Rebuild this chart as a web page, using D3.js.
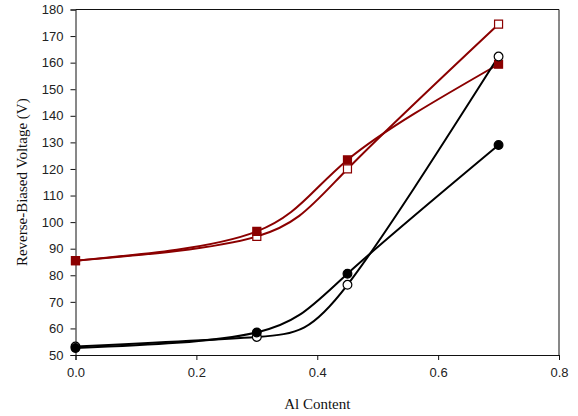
<!DOCTYPE html>
<html>
<head>
<meta charset="utf-8">
<script src="https://cdn.jsdelivr.net/npm/d3@7.9.0/dist/d3.min.js"></script>
<style>
  body { margin: 0; background: #fff; }
  svg { display: block; }
  .tick text { font-family: "Liberation Sans", Arial, sans-serif; font-size: 13px; fill: #222; }
  .title { font-family: "Liberation Serif", "Times New Roman", serif; font-size: 15px; fill: #111; }
</style>
</head>
<body>
<svg id="chart" width="578" height="416"></svg>
<script>
// Al content on the x axis
const alContent = [0, 0.3, 0.45, 0.7];

// reverse-biased voltage (V), one array per series
const redFilled = [85.5, 96.5, 123.4, 159.4];
const redOpen = [85.5, 94.6, 120, 174.5];
const blackFilled = [52.6, 58.5, 80.6, 129];
const blackOpen = [53.2, 56.8, 76.4, 162.3];

const xTicks = [0, 0.2, 0.4, 0.6, 0.8];
const yTicks = d3.range(50, 181, 10);

const series = [
  { values: redOpen, color: '#8b0000', shape: 'square', filled: false },
  { values: redFilled, color: '#8b0000', shape: 'square', filled: true },
  { values: blackOpen, color: '#000', shape: 'circle', filled: false },
  { values: blackFilled, color: '#000', shape: 'circle', filled: true }
];

const svg = d3.select('#chart');
const mLeft = 75.5, mRight = 559, mTop = 9.5, mBottom = 355;

const x = d3.scaleLinear().domain([0, 0.8]).range([mLeft, mRight]);
const y = d3.scaleLinear().domain([50, 180]).range([mBottom, mTop]);

// axes
svg.append('g')
  .attr('transform', `translate(0,${mBottom})`)
  .call(d3.axisBottom(x).tickValues(xTicks).tickFormat(d3.format('.1f')).tickSize(5).tickPadding(8))
  .call(g => g.selectAll('line, path').attr('stroke', '#111'));

svg.append('g')
  .attr('transform', `translate(${mLeft},0)`)
  .call(d3.axisLeft(y).tickValues(yTicks).tickSize(5).tickPadding(7))
  .call(g => g.selectAll('line, path').attr('stroke', '#111'));

// frame top and right
svg.append('path')
  .attr('d', `M${mLeft},${mTop}H${mRight}V${mBottom}`)
  .attr('fill', 'none')
  .attr('stroke', '#111');

// curves
const line = d3.line()
  .x((d, i) => x(alContent[i]))
  .y(d => y(d))
  .curve(d3.curveNatural);

series.forEach(s => {
  svg.append('path')
    .attr('d', line(s.values))
    .attr('fill', 'none')
    .attr('stroke', s.color)
    .attr('stroke-width', 2);
});

// markers
const sym = {
  square: d3.symbol().type(d3.symbolSquare).size(64),
  circle: d3.symbol().type(d3.symbolCircle).size(60)
};

series.forEach(s => {
  svg.append('g').selectAll('path')
    .data(s.values)
    .join('path')
    .attr('transform', (d, i) => `translate(${x(alContent[i])},${y(d)})`)
    .attr('d', sym[s.shape]())
    .attr('fill', s.filled ? s.color : '#fff')
    .attr('stroke', s.color)
    .attr('stroke-width', 1.2);
});

// titles
svg.append('text')
  .attr('class', 'title')
  .attr('x', (mLeft + mRight) / 2)
  .attr('y', 409)
  .attr('text-anchor', 'middle')
  .text('Al Content');

svg.append('text')
  .attr('class', 'title')
  .attr('transform', `translate(27,${(mTop + mBottom) / 2}) rotate(-90)`)
  .attr('text-anchor', 'middle')
  .text('Reverse-Biased Voltage (V)');
</script>
</body>
</html>
